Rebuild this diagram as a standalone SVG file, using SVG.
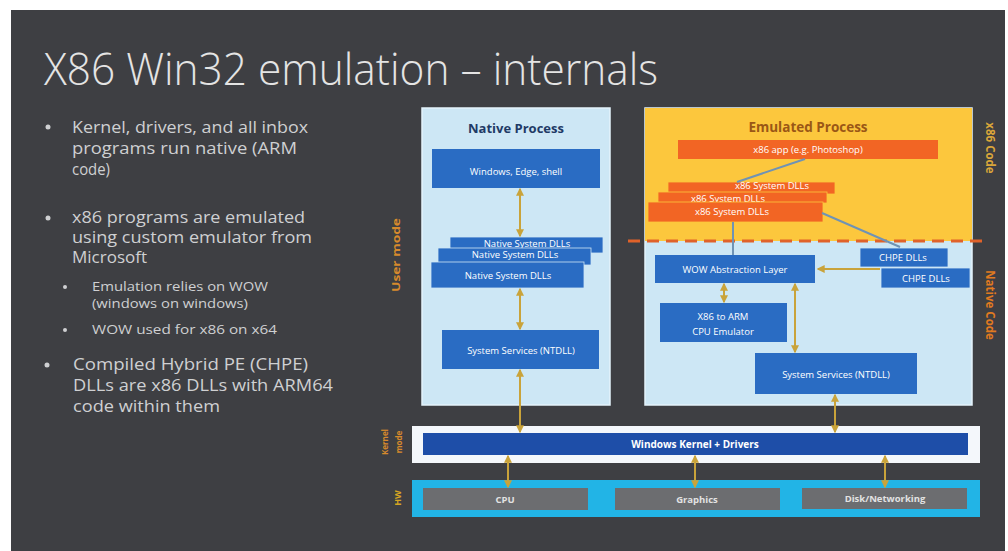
<svg xmlns="http://www.w3.org/2000/svg" width="1008" height="551" viewBox="0 0 1008 551">
<defs>
<style>
.bg{fill:#3e3f43}
.title{font-family:"Open Sans","Noto Sans","Liberation Sans",sans-serif;font-weight:300;fill:#e4e4e4}
.bul{font-family:"Open Sans","Noto Sans","Liberation Sans",sans-serif;fill:#cfd0d2}
.dot{fill:#cfd0d2}
.blue{fill:#2a6cc3}
.orange{fill:#f26524}
.lt{font-family:"Open Sans","Noto Sans","Liberation Sans",sans-serif;font-size:9.5px;fill:#ffffff;text-anchor:middle}
.side{font-family:"Open Sans","Noto Sans","Liberation Sans",sans-serif;font-weight:700;text-anchor:middle}
.conn{stroke:#c9a33a;stroke-width:2;fill:none}
.connb{stroke:#6f93b5;stroke-width:2;fill:none}
.hwbox{fill:#6c6d70}
.hwt{font-family:"Open Sans","Noto Sans","Liberation Sans",sans-serif;font-size:9.5px;font-weight:700;fill:#e2e2e2;text-anchor:middle}
</style>
<marker id="ah" viewBox="0 0 6 6" refX="5" refY="3" markerWidth="4" markerHeight="4" orient="auto-start-reverse">
<path d="M0,0 L6,3 L0,6 z" fill="#c9a33a"/>
</marker>
</defs>

<rect x="0" y="0" width="1008" height="551" fill="#ffffff"/>
<rect class="bg" x="11" y="10" width="994" height="541"/>

<g id="title">
<text class="title" x="44" y="85" font-size="44" textLength="614" lengthAdjust="spacingAndGlyphs">X86 Win32 emulation – internals</text>
</g>

<g id="bullets">
<circle class="dot" cx="48" cy="127" r="2.5"/>
<text class="bul" font-size="16" x="72" y="133" textLength="236" lengthAdjust="spacingAndGlyphs">Kernel, drivers, and all inbox</text>
<text class="bul" font-size="16" x="72" y="154" textLength="225" lengthAdjust="spacingAndGlyphs">programs run native (ARM</text>
<text class="bul" font-size="16" x="72" y="175" textLength="38" lengthAdjust="spacingAndGlyphs">code)</text>

<circle class="dot" cx="48" cy="218" r="2.5"/>
<text class="bul" font-size="16" x="72" y="223" textLength="233" lengthAdjust="spacingAndGlyphs">x86 programs are emulated</text>
<text class="bul" font-size="16" x="72" y="243" textLength="240" lengthAdjust="spacingAndGlyphs">using custom emulator from</text>
<text class="bul" font-size="16" x="72" y="263" textLength="75" lengthAdjust="spacingAndGlyphs">Microsoft</text>

<circle class="dot" cx="65" cy="287" r="2"/>
<text class="bul" font-size="13" x="92" y="291" textLength="176" lengthAdjust="spacingAndGlyphs">Emulation relies on WOW</text>
<text class="bul" font-size="13" x="92" y="308" textLength="156" lengthAdjust="spacingAndGlyphs">(windows on windows)</text>
<circle class="dot" cx="65" cy="330" r="2"/>
<text class="bul" font-size="13" x="92" y="334" textLength="185" lengthAdjust="spacingAndGlyphs">WOW used for x86 on x64</text>

<circle class="dot" cx="47" cy="365" r="2.5"/>
<text class="bul" font-size="16" x="73" y="370" textLength="235" lengthAdjust="spacingAndGlyphs">Compiled Hybrid PE (CHPE)</text>
<text class="bul" font-size="16" x="73" y="391" textLength="260" lengthAdjust="spacingAndGlyphs">DLLs are x86 DLLs with ARM64</text>
<text class="bul" font-size="16" x="73" y="412" textLength="147" lengthAdjust="spacingAndGlyphs">code within them</text>
</g>

<g id="side-labels">
<text class="side" font-size="11" fill="#d68a2c" transform="translate(400,255) rotate(-90)" textLength="74" lengthAdjust="spacingAndGlyphs">User mode</text>
<text class="side" font-size="8" fill="#d68a2c" transform="translate(388,442) rotate(-90)">Kernel</text>
<text class="side" font-size="8" fill="#d68a2c" transform="translate(402,442) rotate(-90)">mode</text>
<text class="side" font-size="9" fill="#d6a522" transform="translate(401,498) rotate(-90)">HW</text>
<text class="side" font-size="11.5" fill="#d9a53a" transform="translate(986,148) rotate(90)">x86 Code</text>
<text class="side" font-size="11.5" fill="#e07a20" transform="translate(986,305) rotate(90)">Native Code</text>
</g>

<g id="native-process">
<rect x="422" y="108" width="188" height="297" fill="#cde7f5" stroke="#e4f3fb" stroke-width="1.5"/>
<text x="516" y="133" font-family="'Open Sans','Noto Sans','Liberation Sans',sans-serif" font-size="13" font-weight="700" fill="#1f3a66" text-anchor="middle">Native Process</text>
</g>

<g id="emulated-process">
<rect x="645" y="108" width="327" height="297" fill="#cde7f5" stroke="#e4f3fb" stroke-width="1.5"/>
<rect x="645" y="108" width="327" height="133" fill="#fcc73d"/>
<text x="808" y="132" font-family="'Open Sans','Noto Sans','Liberation Sans',sans-serif" font-size="13.5" font-weight="700" fill="#9a5716" text-anchor="middle">Emulated Process</text>
</g>

<g id="windows-edge-shell">
<rect class="blue" x="432" y="149" width="168" height="39"/>
<text class="lt" x="516" y="175">Windows, Edge, shell</text>
</g>

<g id="native-system-dlls">
<rect class="blue" x="450" y="237" width="153" height="16" stroke="#cde7f5" stroke-width="0.8"/>
<text class="lt" x="527" y="247" font-size="8.5">Native System DLLs</text>
<rect class="blue" x="438" y="248" width="153" height="17" stroke="#cde7f5" stroke-width="0.8"/>
<text class="lt" x="515" y="258" font-size="8.5">Native System DLLs</text>
<rect class="blue" x="431" y="262" width="153" height="26" stroke="#cde7f5" stroke-width="0.8"/>
<text class="lt" x="508" y="279">Native System DLLs</text>
</g>

<g id="native-system-services">
<rect class="blue" x="442" y="330" width="157" height="39"/>
<text class="lt" x="521" y="354">System Services (NTDLL)</text>
</g>

<g id="x86-app">
<rect class="orange" x="678" y="140" width="260" height="19"/>
<text class="lt" x="808" y="153">x86 app (e.g. Photoshop)</text>
</g>

<g id="x86-system-dlls">
<rect class="orange" x="668" y="182" width="167" height="12" stroke="#fcc73d" stroke-width="0.8"/>
<text class="lt" x="772" y="189" font-size="6.5">x86 System DLLs</text>
<rect class="orange" x="658" y="192" width="169" height="11" stroke="#fcc73d" stroke-width="0.8"/>
<text class="lt" x="728" y="201.5" font-size="6.5">x86 System DLLs</text>
<rect class="orange" x="648" y="202" width="175" height="20" stroke="#fcc73d" stroke-width="0.8"/>
<text class="lt" x="732" y="215">x86 System DLLs</text>
</g>

<g id="dashed-boundary">
<line x1="628" y1="241" x2="986" y2="241" stroke="#e0622a" stroke-width="3" stroke-dasharray="12 7"/>
</g>

<g id="wow-abstraction-layer">
<rect class="blue" x="655" y="255" width="160" height="28"/>
<text class="lt" x="735" y="273">WOW Abstraction Layer</text>
</g>

<g id="chpe-dlls">
<rect class="blue" x="860" y="248" width="88" height="19" stroke="#cde7f5" stroke-width="0.8"/>
<text class="lt" x="903" y="261">CHPE DLLs</text>
<rect class="blue" x="881" y="268" width="89" height="20" stroke="#cde7f5" stroke-width="0.8"/>
<text class="lt" x="926" y="282">CHPE DLLs</text>
</g>

<g id="cpu-emulator">
<rect class="blue" x="660" y="303" width="127" height="39"/>
<text class="lt" x="723" y="320">X86 to ARM</text>
<text class="lt" x="723" y="335">CPU Emulator</text>
</g>

<g id="emulated-system-services">
<rect class="blue" x="755" y="353" width="162" height="41"/>
<text class="lt" x="836" y="378">System Services (NTDLL)</text>
</g>

<g id="kernel">
<rect x="412" y="426" width="568" height="37" fill="#f4f7fb"/>
<rect x="423" y="433" width="545" height="22" fill="#1e4ea8"/>
<text x="695" y="448" font-family="'Open Sans','Noto Sans','Liberation Sans',sans-serif" font-size="10" font-weight="700" fill="#ffffff" text-anchor="middle">Windows Kernel + Drivers</text>
</g>

<g id="hardware">
<rect x="412" y="480" width="568" height="37" fill="#22b4e6"/>
</g>
<g id="cpu">
<rect class="hwbox" x="423" y="488" width="165" height="22"/>
<text class="hwt" x="505" y="503">CPU</text>
</g>
<g id="graphics">
<rect class="hwbox" x="615" y="488" width="165" height="22"/>
<text class="hwt" x="697" y="503">Graphics</text>
</g>
<g id="disk-networking">
<rect class="hwbox" x="802" y="488" width="165" height="21"/>
<text class="hwt" x="885" y="502">Disk/Networking</text>
</g>

<g id="connectors">
<line class="conn" x1="520" y1="189" x2="520" y2="236" marker-start="url(#ah)" marker-end="url(#ah)"/>
<line class="conn" x1="520" y1="289" x2="520" y2="329" marker-start="url(#ah)" marker-end="url(#ah)"/>
<line class="conn" x1="520" y1="370" x2="520" y2="432" marker-start="url(#ah)" marker-end="url(#ah)"/>
<line class="connb" x1="805" y1="159" x2="737" y2="182"/>
<line class="connb" x1="822" y1="213" x2="900" y2="247"/>
<line class="connb" x1="733" y1="222" x2="733" y2="255"/>
<line class="conn" x1="880" y1="269" x2="818" y2="269" marker-end="url(#ah)"/>
<line class="conn" x1="724" y1="284" x2="724" y2="302" marker-start="url(#ah)" marker-end="url(#ah)"/>
<line class="conn" x1="795" y1="284" x2="795" y2="352" marker-start="url(#ah)" marker-end="url(#ah)"/>
<line class="conn" x1="835" y1="395" x2="835" y2="432" marker-start="url(#ah)" marker-end="url(#ah)"/>
<line class="conn" x1="508" y1="456" x2="508" y2="487" marker-start="url(#ah)" marker-end="url(#ah)"/>
<line class="conn" x1="695" y1="456" x2="695" y2="487" marker-start="url(#ah)" marker-end="url(#ah)"/>
<line class="conn" x1="885" y1="456" x2="885" y2="487" marker-start="url(#ah)" marker-end="url(#ah)"/>
</g>
</svg>
